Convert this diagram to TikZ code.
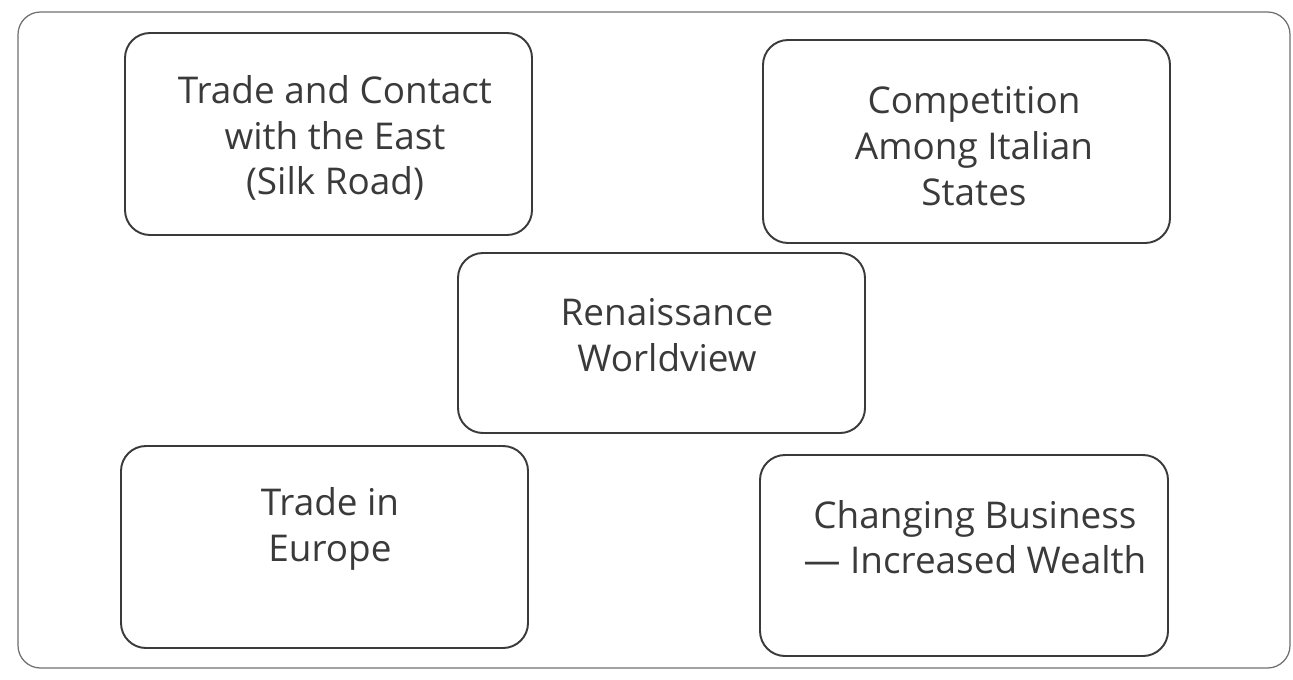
\documentclass[tikz,border=0pt]{standalone}
\usepackage{fontspec}
\setmainfont{Open Sans}
\usepackage{tikz}
\definecolor{ink}{HTML}{3A3A3A}
\definecolor{frame}{HTML}{6E6E6E}
\tikzset{>=latex}

\begin{document}
\begin{tikzpicture}[x = 0.02cm, y = -0.02cm,
  box/.style = {line width = 1.1pt, draw = ink, rounded corners = 0.5cm},
  lbl/.style = {align = center, text = ink, font = \fontsize{21}{26}\selectfont}]
\useasboundingbox (0,0) rectangle (1293,679);
% outer card
\draw[frame, line width = 0.7pt, rounded corners = 0.45cm] (18,12) rectangle (1290,668);
% causes around the centre
\draw[box] (125,33) rectangle (532,235);
\node[lbl] (east) at (335,138) {Trade and Contact\\with the East\\(Silk Road)};
\draw[box] (763,40) rectangle (1170,243);
\node[lbl] (italy) at (974,146) {Competition\\Among Italian\\States};
\draw[box] (458,253) rectangle (865,433);
\node[lbl] (view) at (667,335) {Renaissance\\Worldview};
\draw[box] (121,446) rectangle (528,648);
\node[lbl] (europe) at (330,529) {Trade in\\Europe};
\draw[box] (760,455) rectangle (1168,656);
\node[lbl] (wealth) at (975,537) {Changing Business\\— Increased Wealth};
\end{tikzpicture}
\end{document}
